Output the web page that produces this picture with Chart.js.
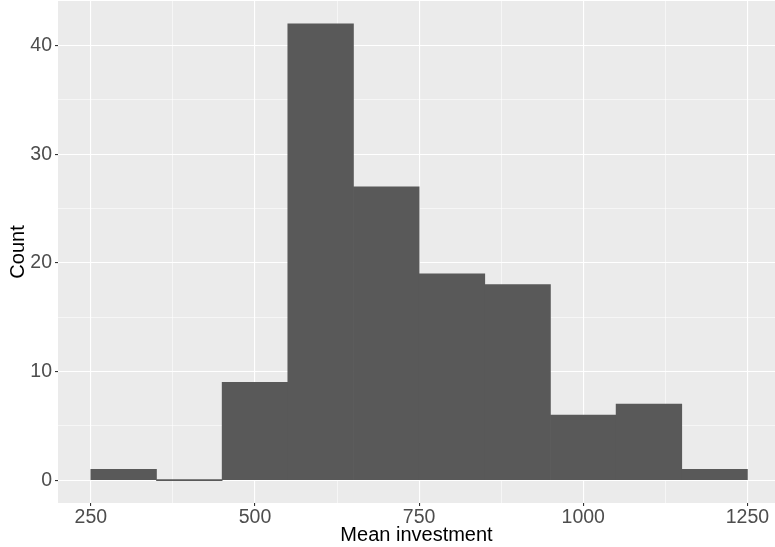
<!DOCTYPE html>
<html>
<head>
<meta charset="utf-8">
<script src="https://cdn.jsdelivr.net/npm/chart.js@4.4.0/dist/chart.umd.min.js"></script>
<style>
html, body { margin: 0; padding: 0; background: #fff; }
#wrap { width: 775px; height: 547px; }
</style>
</head>
<body>
<div id="wrap"><canvas id="myChart"></canvas></div>
<script>
// histogram bins (width 100) and their counts
const binCenters = [300, 400, 500, 600, 700, 800, 900, 1000, 1100, 1200];
const counts = [1, 0, 9, 42, 27, 19, 18, 6, 7, 1];

const xMajorTicks = [250, 500, 750, 1000, 1250];
const xMinorTicks = [375, 625, 875, 1125];
const yMajorTicks = [0, 10, 20, 30, 40];
const yMinorTicks = [5, 15, 25, 35];

const FONT = "'Liberation Sans', Arial, Helvetica, sans-serif";

// grey panel like ggplot
const panelBg = {
  id: "panelBg",
  beforeDraw(chart) {
    const { ctx, chartArea: a } = chart;
    ctx.save();
    ctx.fillStyle = "#EBEBEB";
    ctx.fillRect(a.left, a.top, a.right - a.left, a.bottom - a.top);
    ctx.restore();
  },
};

function gridFor(minor) {
  return {
    color: "#FFFFFF",
    lineWidth: (c) => (minor.includes(c.tick && c.tick.value) ? 0.55 : 1.1),
    drawTicks: true,
    tickLength: 3,
    tickWidth: 1.1,
    tickColor: (c) => (minor.includes(c.tick && c.tick.value) ? "rgba(0,0,0,0)" : "#333333"),
    offset: false,
  };
}

// no extra room for the end labels, panel goes to the edge
function noPad(scale) {
  scale.paddingTop = 0;
  scale.paddingBottom = 0;
  scale.paddingLeft = 0;
  scale.paddingRight = 0;
}

const data = {
  datasets: [
    {
      label: "Count",
      data: binCenters.map((c, i) => ({ x: c, y: counts[i] })),
      backgroundColor: "#595959",
      borderWidth: 0,
      barPercentage: 1,
      categoryPercentage: 1,
      minBarLength: 1,
    },
  ],
};

const config = {
  type: "bar",
  data: data,
  plugins: [panelBg],
  options: {
    responsive: true,
    maintainAspectRatio: false,
    animation: false,
    layout: { padding: { top: 1, right: 0, bottom: 0, left: 0 } },
    plugins: {
      legend: { display: false },
      tooltip: { enabled: false },
    },
    scales: {
      x: {
        type: "linear",
        min: 200,
        max: 1292,
        offset: false,
        border: { display: false },
        grid: gridFor(xMinorTicks),
        afterBuildTicks: (scale) => {
          scale.ticks = [...xMajorTicks, ...xMinorTicks].sort((a, b) => a - b).map((v) => ({ value: v }));
        },
        afterFit: (scale) => { scale.height = 44; noPad(scale); },
        ticks: {
          autoSkip: false,
          maxRotation: 0,
          padding: 0,
          color: "#4D4D4D",
          font: { family: FONT, size: 19.5 },
          callback: (v) => (xMajorTicks.includes(v) ? String(v) : ""),
        },
        title: {
          display: true,
          text: "Mean investment",
          color: "#000000",
          font: { family: FONT, size: 20 },
          padding: 0,
        },
      },
      y: {
        type: "linear",
        min: -2.1,
        max: 44.1,
        border: { display: false },
        grid: gridFor(yMinorTicks),
        afterBuildTicks: (scale) => {
          scale.ticks = [...yMajorTicks, ...yMinorTicks].sort((a, b) => a - b).map((v) => ({ value: v }));
        },
        afterFit: (scale) => { scale.width = 58; noPad(scale); },
        ticks: {
          autoSkip: false,
          padding: 3,
          color: "#4D4D4D",
          font: { family: FONT, size: 19.5 },
          callback: (v) => (yMajorTicks.includes(v) ? String(v) : ""),
        },
        title: {
          display: true,
          text: "Count",
          color: "#000000",
          font: { family: FONT, size: 20 },
          padding: { top: 6, bottom: 0 },
        },
      },
    },
  },
};

const context = document.getElementById("myChart").getContext("2d");
const chart = new Chart(context, config);
</script>
</body>
</html>
